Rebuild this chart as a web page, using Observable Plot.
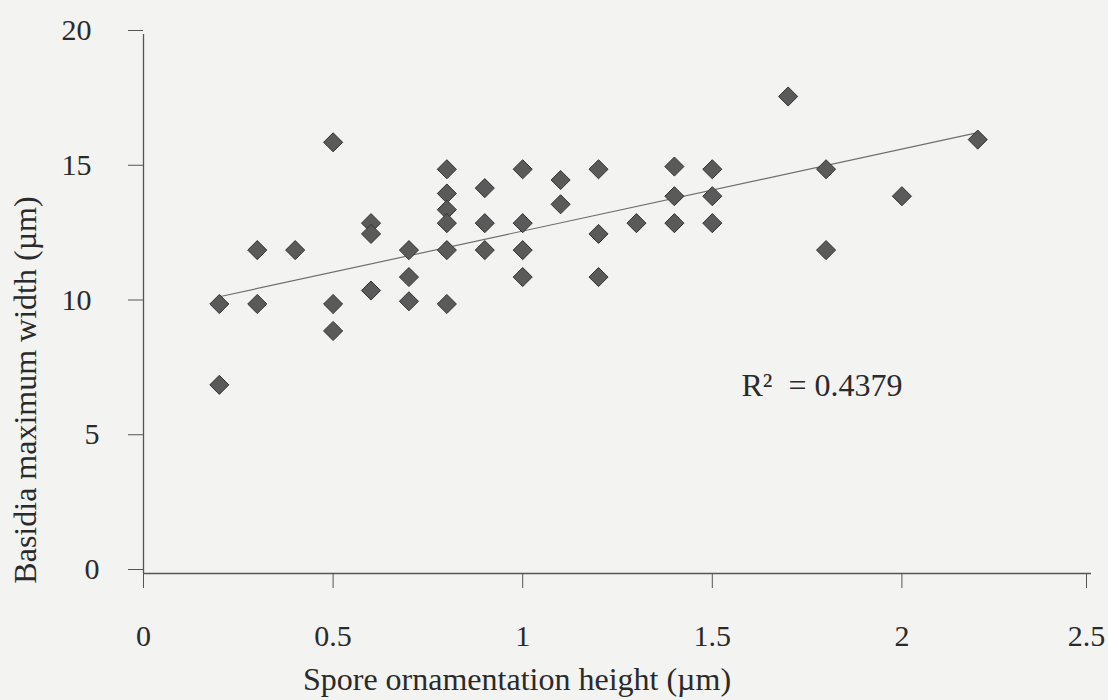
<!DOCTYPE html>
<html><head><meta charset="utf-8">
<script src="https://cdn.jsdelivr.net/npm/d3@7"></script>
<script src="https://cdn.jsdelivr.net/npm/@observablehq/plot@0.6"></script>
<style>
html,body{margin:0;padding:0;background:#f3f3f1;}
#chart{position:relative;width:1108px;height:700px;}
</style></head><body><div id="chart"></div>
<script>
// Spore ornamentation height (µm)
const sporeHeight = [
  0.2, 0.2,
  0.3, 0.3,
  0.4,
  0.5, 0.5, 0.5,
  0.6, 0.6, 0.6,
  0.7, 0.7, 0.7,
  0.8, 0.8, 0.8, 0.8, 0.8, 0.8,
  0.9, 0.9, 0.9,
  1.0, 1.0, 1.0, 1.0,
  1.1, 1.1,
  1.2, 1.2, 1.2,
  1.3,
  1.4, 1.4, 1.4,
  1.5, 1.5, 1.5,
  1.7,
  1.8, 1.8,
  2.0,
  2.2
];
// Basidia maximum width (µm)
const basidiaWidth = [
  10, 7,
  12, 10,
  12,
  16, 10, 9,
  13, 12.6, 10.5,
  12, 11, 10.1,
  15, 14.1, 13.5, 13, 12, 10,
  14.3, 13, 12,
  15, 13, 12, 11,
  14.6, 13.7,
  15, 12.6, 11,
  13,
  15.1, 14, 13,
  15, 14, 13,
  17.7,
  15, 12,
  14,
  16.1
];
// Linear trend line (as drawn in the original)
const trendX = [0.2, 2.2];
const trendY = [10.27, 16.36];

const xTicks = [0, 0.5, 1, 1.5, 2];
const xTickLast = [2.5];
const yTicksTwoDigit = [10, 15, 20];
const yTicksOneDigit = [0, 5];
const xTitle = "Spore ornamentation height (µm)";
const yTitle = "Basidia maximum width (µm)";
const r2Label = "R²\u00a0\u00a0=\u00a00.4379";
const r2Anchor = [{x: 1.577, y: 6.6}];

const data = sporeHeight.map((x, i) => ({x, y: basidiaWidth[i]}));
const trend = trendX.map((x, i) => ({x, y: trendY[i]}));
const font = "'Liberation Serif', 'Times New Roman', serif";
const ink = "#2a2a2a";
const axisInk = "#555";

const plot = Plot.plot({
  width: 1108, height: 700,
  marginLeft: 143, marginRight: 17, marginTop: 34, marginBottom: 127,
  style: {fontFamily: font, fontSize: "30px", background: "transparent", color: ink},
  x: {domain: [0, 2.5], label: null},
  y: {domain: [0, 20], label: null},
  marks: [
    Plot.ruleY([0], {stroke: axisInk, strokeWidth: 1.3}),
    Plot.ruleX([0], {stroke: axisInk, strokeWidth: 1.3}),
    Plot.axisX({ticks: xTicks, tickSize: 15, tickPadding: 36, tickFormat: d => String(d), stroke: axisInk, fill: ink, label: null}),
    Plot.axisX({ticks: xTickLast, tickSize: 15, tickPadding: 36, dx: -5, tickFormat: d => String(d), stroke: axisInk, fill: ink, label: null}),
    Plot.axisY({ticks: yTicksTwoDigit, tickSize: 15, tickPadding: 37, dy: -4, tickFormat: d => String(d), stroke: axisInk, fill: ink, label: null}),
    Plot.axisY({ticks: yTicksOneDigit, tickSize: 15, tickPadding: 29, dy: -4, tickFormat: d => String(d), stroke: axisInk, fill: ink, label: null}),
    Plot.line(trend, {x: "x", y: "y", stroke: "#6e6e6e", strokeWidth: 1.2}),
    Plot.dot(data, {x: "x", y: "y", symbol: "diamond2", r: 8.6, fill: "#5a5a5a", stroke: "#333", strokeWidth: 1}),
    Plot.text(r2Anchor, {x: "x", y: "y", text: () => r2Label, textAnchor: "start", lineAnchor: "bottom", fill: ink, fontSize: 32})
  ]
});

const svg = d3.select(plot);
svg.append("text")
  .attr("x", 517).attr("y", 690)
  .attr("text-anchor", "middle")
  .attr("font-family", font).attr("font-size", 32).attr("fill", ink)
  .text(xTitle);
svg.append("text")
  .attr("transform", "translate(36,390) rotate(-90)")
  .attr("text-anchor", "middle")
  .attr("font-family", font).attr("font-size", 32).attr("fill", ink)
  .text(yTitle);

document.getElementById("chart").appendChild(plot);
</script>
</body></html>
